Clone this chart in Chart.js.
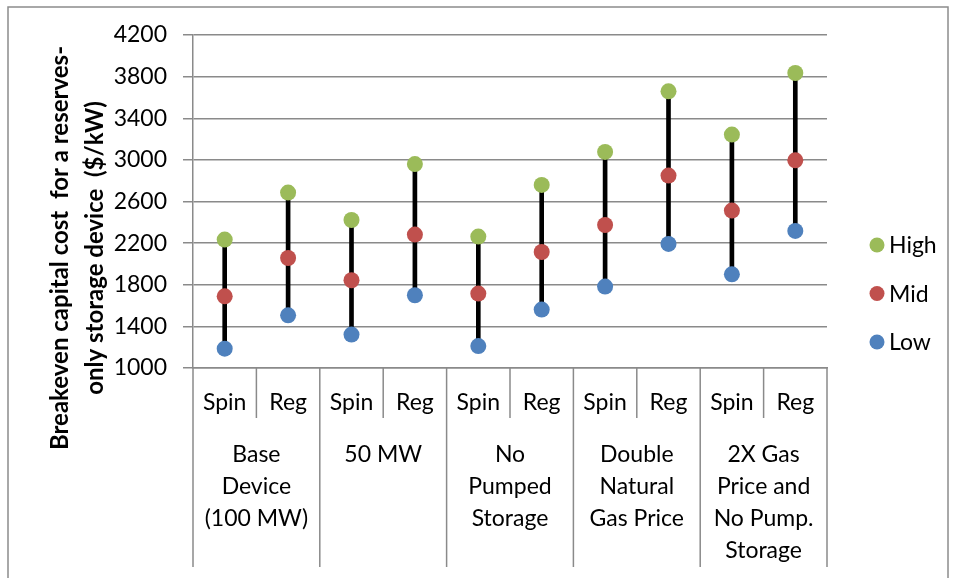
<!DOCTYPE html>
<html><head><meta charset="utf-8">
<script src="https://cdn.jsdelivr.net/npm/chart.js@4"></script>
<style>html,body{margin:0;padding:0;background:#fff}#wrap{width:955px;height:578px;position:relative}</style>
</head><body><div id="wrap"><canvas id="c" width="955" height="578"></canvas></div>
<script>
const categories = ["Spin","Reg","Spin","Reg","Spin","Reg","Spin","Reg","Spin","Reg"];
const groups = [["Base","Device","(100 MW)"],["50 MW"],["No","Pumped","Storage"],["Double","Natural","Gas Price"],["2X Gas","Price and","No Pump.","Storage"]];
const highValues = [2234,2686,2422,2960,2263,2759,3076,3659,3243,3835];
const midValues  = [1689,2057,1843,2282,1715,2115,2374,2849,2513,2996];
const lowValues  = [1186,1506,1321,1699,1211,1561,1782,2192,1900,2317];
const yTicks = [1000,1400,1800,2200,2600,3000,3400,3800,4200];
const seriesNames = ["High","Mid","Low"];
const yTitle = ["Breakeven capital cost  for a reserves-","only storage device  ($/kW)"];

const GREEN = "#9BBB59", RED = "#C0504D", BLUE = "#4F81BD", GRID = "#8a8a8a";
const FONT = "Lato";
const FS = 23;

const rangeData = lowValues.map((l, i) => [l, highValues[i]]);

const decor = {
  id: "decor",
  afterDraw(chart) {
    const ctx = chart.ctx, ca = chart.chartArea, xs = chart.scales.x;
    const band = (ca.right - ca.left) / categories.length;
    ctx.save();
    // outer border
    ctx.strokeStyle = "#8c8c8c"; ctx.lineWidth = 1.5;
    ctx.strokeRect(8, 7, 940, 620);
    // separators
    ctx.strokeStyle = GRID; ctx.lineWidth = 1.5;
    for (let i = 0; i <= categories.length; i++) {
      const px = i < categories.length ? xs.getPixelForValue(i) - band / 2 : xs.getPixelForValue(i - 1) + band / 2;
      const bottom = (i % 2 === 0) ? 567 : 418;
      ctx.beginPath(); ctx.moveTo(px, ca.bottom); ctx.lineTo(px, bottom); ctx.stroke();
    }
    // group labels
    ctx.fillStyle = "#000"; ctx.font = FS + "px " + FONT;
    ctx.textAlign = "center"; ctx.textBaseline = "middle";
    groups.forEach((g, k) => {
      const cx = (xs.getPixelForValue(2 * k) + xs.getPixelForValue(2 * k + 1)) / 2;
      g.forEach((line, j) => ctx.fillText(line, cx, 455 + j * 32));
    });
    // y title
    ctx.font = "bold 24px " + FONT;
    yTitle.forEach((line, j) => {
      ctx.save();
      ctx.translate(60 + j * 35, 248);
      ctx.rotate(-Math.PI / 2);
      ctx.fillText(line, 0, 0);
      ctx.restore();
    });
    // legend
    ctx.font = FS + "px " + FONT; ctx.textAlign = "left";
    const pts = chart.data.datasets.filter(d => d.type === "line");
    pts.forEach((d, j) => {
      const y = 245 + j * 48.5;
      ctx.fillStyle = d.backgroundColor;
      ctx.beginPath(); ctx.arc(877, y, 7.5, 0, Math.PI * 2); ctx.fill();
      ctx.fillStyle = "#000";
      ctx.fillText(d.label, 889, y + 1);
    });
    ctx.restore();
  }
};

new Chart(document.getElementById("c"), {
  type: "bar",
  data: {
    labels: categories,
    datasets: [
      { type: "line", label: seriesNames[0], data: highValues, showLine: false, pointRadius: 8, pointHoverRadius: 8, pointBorderWidth: 0, backgroundColor: GREEN, borderColor: GREEN, order: 1 },
      { type: "line", label: seriesNames[1], data: midValues, showLine: false, pointRadius: 8, pointHoverRadius: 8, pointBorderWidth: 0, backgroundColor: RED, borderColor: RED, order: 2 },
      { type: "line", label: seriesNames[2], data: lowValues, showLine: false, pointRadius: 8, pointHoverRadius: 8, pointBorderWidth: 0, backgroundColor: BLUE, borderColor: BLUE, order: 3 },
      { type: "bar", label: "range", data: rangeData, backgroundColor: "#000", barThickness: 4, borderSkipped: false, order: 10 }
    ]
  },
  options: {
    responsive: false,
    animation: false,
    layout: { padding: { left: 0, top: 35, right: 128, bottom: 0 } },
    plugins: { legend: { display: false }, tooltip: { enabled: false } },
    scales: {
      x: {
        offset: true,
        grid: { display: false, drawTicks: false },
        border: { display: true, color: GRID, width: 1.5 },
        ticks: { color: "#000", font: { family: FONT, size: FS }, padding: 21, maxRotation: 0, autoSkip: false },
        afterFit(s) { s.height = 210; }
      },
      y: {
        min: 1000, max: 4200,
        afterBuildTicks(s) { s.ticks = yTicks.map(v => ({ value: v })); },
        grid: { color: GRID, lineWidth: 1.5, tickLength: 10 },
        border: { display: true, color: GRID, width: 1.5 },
        ticks: { color: "#000", font: { family: FONT, size: FS }, padding: 16, callback: v => String(v) },
        afterFit(s) { s.width = 193; }
      }
    }
  },
  plugins: [decor]
});
</script>
</body></html>
